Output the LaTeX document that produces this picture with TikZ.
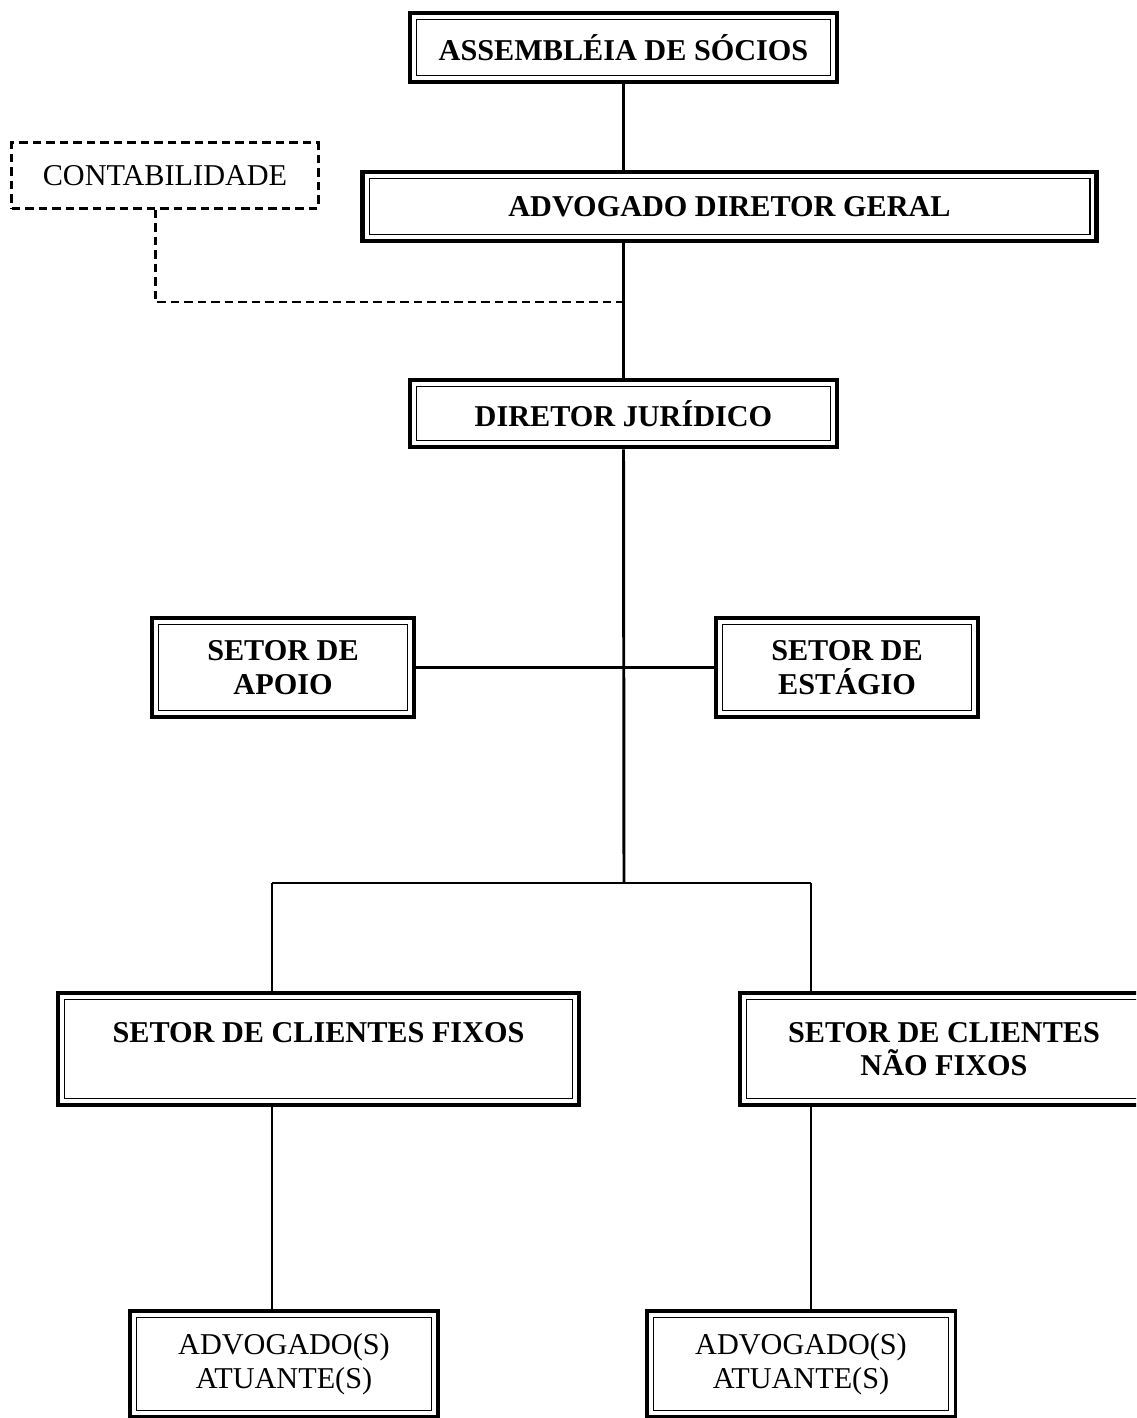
\documentclass[tikz,border=0pt]{standalone}
\usepackage{fontspec}
\setmainfont{Liberation Serif}
\usetikzlibrary{positioning}
\tikzset{
  orgbox/.style={draw, line width=3.3pt, inner sep=0pt, align=center,
    font=\fontsize{21.5}{24}\selectfont\bfseries,
    path picture={\draw[line width=1.1pt]
      ([shift={(4.6pt,-4.6pt)}]path picture bounding box.north west) rectangle
      ([shift={(-4.6pt,4.6pt)}]path picture bounding box.south east);}},
  leafbox/.style={orgbox, line width=2.2pt, font=\fontsize{21.5}{24}\selectfont},
  dashbox/.style={draw, line width=2.1pt, dash pattern=on 6pt off 3.6pt, inner sep=0pt,
    font=\fontsize{21.5}{24}\selectfont},
  conn/.style={line width=2.1pt},
  dashconn/.style={line width=2.1pt, dash pattern=on 6pt off 3.6pt}
}
\begin{document}
\begin{tikzpicture}[x=0.025cm, y=0.025cm]
  \clip (0,0) rectangle (1136,-1418);
  \fill[white] (0,0) rectangle (1136,-1418);

  \node[orgbox, minimum width=10.68cm, minimum height=1.73cm] (ass) at (623.5,-47.5) {ASSEMBLÉIA DE SÓCIOS};
  \node[dashbox, minimum width=7.65cm, minimum height=1.63cm] (conta) at (165,-175.5) {CONTABILIDADE};
  \node[orgbox, minimum width=18.33cm, minimum height=1.73cm] (geral) at (729.5,-206.5) {ADVOGADO DIRETOR GERAL};
  \node[orgbox, minimum width=10.68cm, minimum height=1.68cm] (jur) at (623.5,-413.5) {DIRETOR JURÍDICO};
  \node[orgbox, minimum width=6.55cm, minimum height=2.48cm] (apoio) at (283,-667.5) {SETOR DE\\APOIO};
  \node[orgbox, minimum width=6.55cm, minimum height=2.48cm] (estagio) at (847,-667.5) {SETOR DE\\ESTÁGIO};
  \node[orgbox, minimum width=13.03cm, minimum height=2.8cm] (fixos) at (318.5,-1049) {SETOR DE CLIENTES FIXOS\\\mbox{}};
  \node[orgbox, minimum width=10.2cm, minimum height=2.8cm] (naofixos) at (944,-1049) {SETOR DE CLIENTES\\NÃO FIXOS};
  \node[leafbox, minimum width=7.7cm, minimum height=2.65cm] (advl) at (284,-1364) {ADVOGADO(S)\\ATUANTE(S)};
  \node[leafbox, minimum width=7.7cm, minimum height=2.65cm] (advr) at (801,-1364) {ADVOGADO(S)\\ATUANTE(S)};

  \coordinate (dj) at (624,-302);
  \coordinate (split) at (624,-883);
  \coordinate (bl) at (272,-883);
  \coordinate (br) at (811,-883);

  \draw[conn] (ass.south) -- (ass.south |- geral.north);
  \draw[conn] (jur.north |- geral.south) -- (jur.north);
  \draw[dashconn] ([xshift=-7pt]conta.south) |- (dj);
  \draw[conn] (jur.south) -- (split);
  \draw[conn] (apoio.east) -- (estagio.west);
  \draw[conn] (bl) -- (br);
  \draw[conn] (bl) -- (bl |- fixos.north);
  \draw[conn] (br) -- (br |- naofixos.north);
  \draw[conn] (bl |- fixos.south) -- (bl |- advl.north);
  \draw[conn] (br |- naofixos.south) -- (br |- advr.north);
\end{tikzpicture}
\end{document}
